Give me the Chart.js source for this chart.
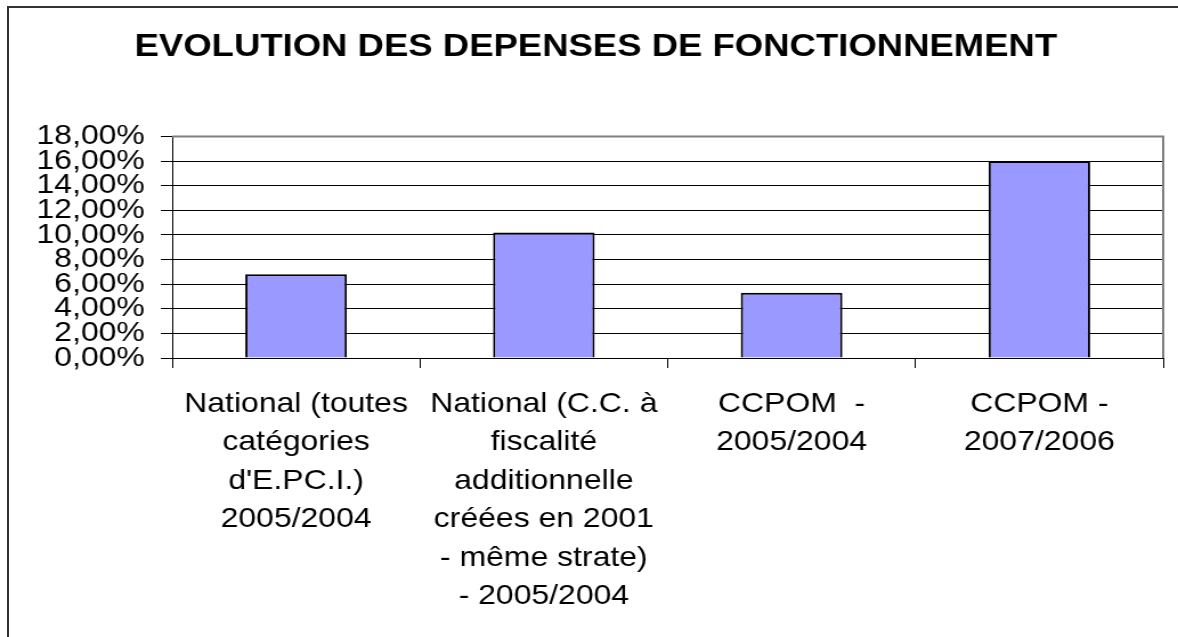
<!DOCTYPE html>
<html lang="fr">
<head>
<meta charset="utf-8">
<title>Evolution des dépenses de fonctionnement</title>
<script src="https://cdn.jsdelivr.net/npm/chart.js@4/dist/chart.umd.min.js"></script>
<style>
  html, body { margin: 0; padding: 0; background: #ffffff; overflow: hidden; }
  /* cadre du graphique (haut et gauche seulement, comme sur l'image) */
  #frame {
    position: absolute; left: 7px; top: 6px; width: 1400px; height: 900px;
    border-top: 2px solid #333333; border-left: 2px solid #333333;
  }
  /* le rendu d'origine est étiré horizontalement : on étire le canvas */
  #wrap {
    position: absolute; left: 0; top: 0; width: 1033px; height: 637px;
    transform: scaleX(1.1404); transform-origin: 0 0;
  }
</style>
</head>
<body>
<div id="frame"></div>
<div id="wrap"><canvas id="depensesChart"></canvas></div>
<script>
// Catégories (libellés sur plusieurs lignes)
const categories = [
  ['National (toutes', 'catégories', "d'E.PC.I.)", '2005/2004'],
  ['National (C.C. à', 'fiscalité', 'additionnelle', 'créées en 2001', '- même strate)', '- 2005/2004'],
  ['CCPOM  -', '2005/2004'],
  ['CCPOM -', '2007/2006'],
];

// Evolution en %
const evolution = [6.8, 10.2, 5.3, 16.0];

// Graduations de l'axe Y (en %)
const yTicks = [0, 2, 4, 6, 8, 10, 12, 14, 16, 18];

const FONT = "'Liberation Sans', Arial, sans-serif";

// Cadre gris en haut et à droite de la zone de tracé
const plotFrame = {
  id: 'plotFrame',
  afterDraw(chart) {
    const { ctx, chartArea: a } = chart;
    ctx.save();
    ctx.strokeStyle = '#808080';
    ctx.lineWidth = 2;
    ctx.beginPath();
    ctx.moveTo(a.left, a.top);
    ctx.lineTo(a.right, a.top);
    ctx.lineTo(a.right, a.bottom);
    ctx.stroke();
    ctx.restore();
  },
};

new Chart(document.getElementById('depensesChart'), {
  type: 'bar',
  data: {
    labels: categories,
    datasets: [{
      data: evolution,
      backgroundColor: '#9999ff',
      borderColor: '#000000',
      borderWidth: 2,
      categoryPercentage: 1,
      barPercentage: 0.41,
    }],
  },
  options: {
    responsive: true,
    maintainAspectRatio: false,
    animation: false,
    layout: { padding: { top: 0, left: 25, right: 13, bottom: 0 } },
    plugins: {
      legend: { display: false },
      tooltip: { enabled: false },
      title: {
        display: true,
        text: 'EVOLUTION DES DEPENSES DE FONCTIONNEMENT',
        color: '#000000',
        font: { family: FONT, size: 32, weight: 'bold', lineHeight: 1.2 },
        padding: { top: 28, bottom: 70 },
      },
    },
    scales: {
      x: {
        grid: { drawOnChartArea: false, drawTicks: true, tickLength: 10, color: '#000000', offset: true },
        border: { color: '#000000', width: 1 },
        ticks: {
          color: '#000000',
          autoSkip: false,
          maxRotation: 0,
          padding: 17,
          font: { family: FONT, size: 28, lineHeight: 1.375 },
        },
        afterFit(scale) { scale.height = 279; },
      },
      y: {
        min: yTicks[0],
        max: yTicks[yTicks.length - 1],
        afterBuildTicks(scale) { scale.ticks = yTicks.map(v => ({ value: v })); },
        grid: { color: '#000000', tickLength: 10, drawTicks: true },
        border: { color: '#000000', width: 1 },
        ticks: {
          color: '#000000',
          autoSkip: false,
          padding: 14,
          font: { family: FONT, size: 28, lineHeight: 1 },
          callback: value => value.toFixed(2).replace('.', ',') + '%',
        },
        afterFit(scale) { scale.width = 126; },
      },
    },
  },
  plugins: [plotFrame],
});
</script>
</body>
</html>
